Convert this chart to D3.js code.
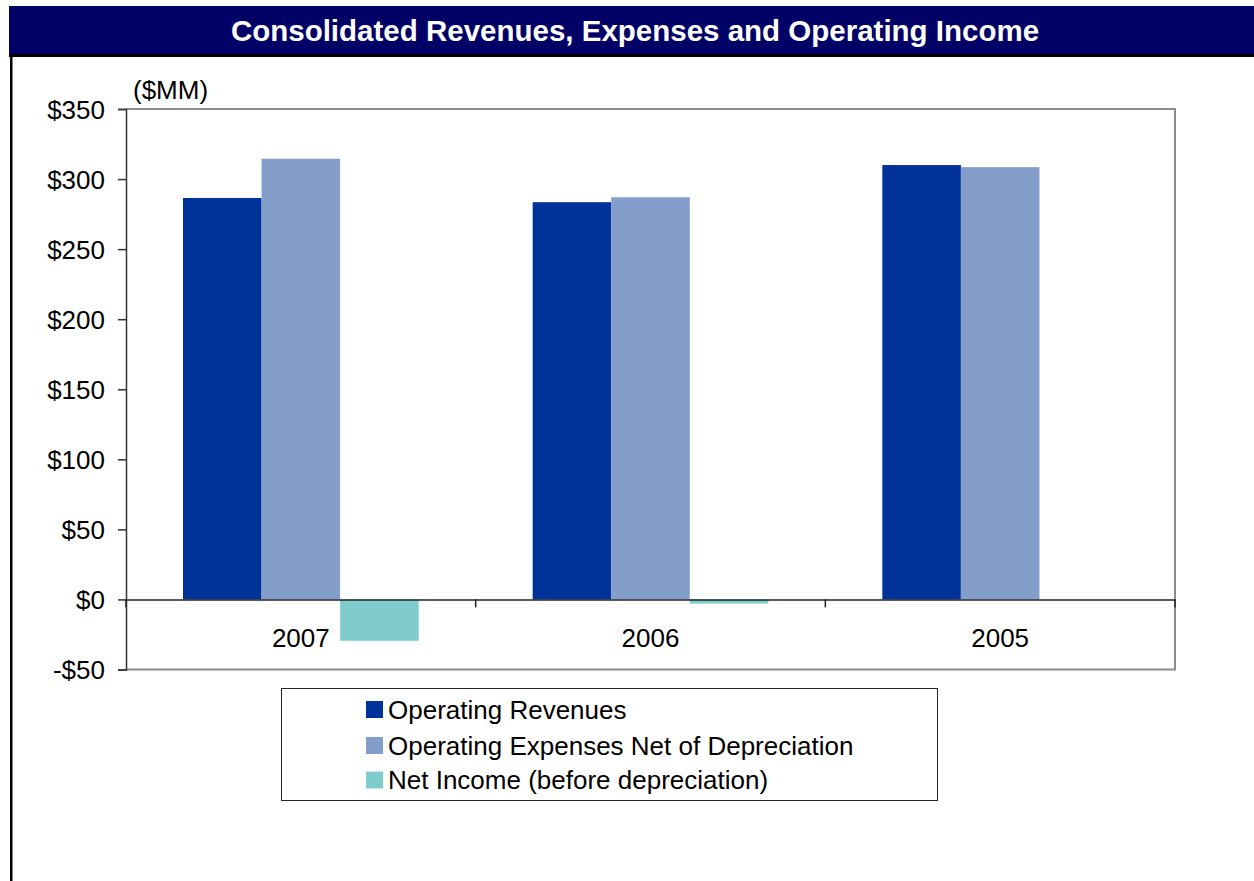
<!DOCTYPE html>
<html>
<head>
<meta charset="utf-8">
<script src="https://cdn.jsdelivr.net/npm/d3@7"></script>
<style>
  html, body { margin: 0; padding: 0; background: #fff; }
  svg { display: block; font-family: "Liberation Sans", Arial, sans-serif; }
</style>
</head>
<body>
<svg id="chart" width="1254" height="881"></svg>
<script>
// Fiscal years shown, newest first
const years = ["2007", "2006", "2005"];
// Values in $ millions
const operatingRevenues = [286.5, 283.5, 310];
const operatingExpenses = [314.5, 287, 308.5];
const netIncome = [-29.5, -3, 0];

const seriesNames = [
  "Operating Revenues",
  "Operating Expenses Net of Depreciation",
  "Net Income (before depreciation)"
];
const seriesColors = ["#003399", "#849ECC", "#80CCCC"];
const yTicks = [-50, 0, 50, 100, 150, 200, 250, 300, 350];

const title = "Consolidated Revenues, Expenses and Operating Income";

const labelSize = 26;
const svg = d3.select("#chart");

// Title banner
svg.append("rect").attr("x", 9).attr("y", 6).attr("width", 1245).attr("height", 49).attr("fill", "#000066");
svg.append("rect").attr("x", 9).attr("y", 54).attr("width", 1245).attr("height", 3).attr("fill", "#000");
svg.append("text")
  .attr("x", 635).attr("y", 41)
  .attr("text-anchor", "middle")
  .attr("fill", "#fff")
  .attr("font-weight", "bold")
  .attr("font-size", 29.5)
  .text(title);

// Frame rule on the left
svg.append("rect").attr("x", 10).attr("y", 55).attr("width", 2.5).attr("height", 826).attr("fill", "#000");

// Plot area
const plot = { left: 126, top: 109, right: 1175, bottom: 669.5 };

const y = d3.scaleLinear().domain([-50, 350]).range([plot.bottom, plot.top]);
const x0 = d3.scaleBand().domain(years).range([plot.left, plot.right]).padding(0);
const groupPad = x0.bandwidth() * 0.163;
const x1 = d3.scaleBand().domain(d3.range(3)).range([groupPad, x0.bandwidth() - groupPad]).padding(0);

// Plot border (top, right, bottom)
svg.append("path")
  .attr("d", `M${plot.left},${plot.top}H${plot.right}V${plot.bottom}H${plot.left}`)
  .attr("fill", "none").attr("stroke", "#8c8c8c").attr("stroke-width", 2);

const data = years.map((yr, i) => ({
  year: yr,
  values: [operatingRevenues[i], operatingExpenses[i], netIncome[i]]
}));

// Bars
const groups = svg.append("g").selectAll("g")
  .data(data).join("g")
  .attr("transform", d => `translate(${x0(d.year)},0)`);

groups.selectAll("rect")
  .data(d => d.values.map((v, k) => ({ v, k })))
  .join("rect")
  .attr("x", d => x1(d.k))
  .attr("width", x1.bandwidth())
  .attr("y", d => y(Math.max(0, d.v)))
  .attr("height", d => Math.abs(y(d.v) - y(0)))
  .attr("fill", d => seriesColors[d.k]);

// Value axis
const yAxis = d3.axisLeft(y)
  .tickValues(yTicks)
  .tickSize(8)
  .tickPadding(13)
  .tickFormat(d => (d < 0 ? "-$" : "$") + Math.abs(d));

const yg = svg.append("g")
  .attr("transform", `translate(${plot.left},0)`)
  .call(yAxis);
yg.select(".domain").attr("stroke", "#333").attr("stroke-width", 1.5);
yg.selectAll(".tick line").attr("stroke", "#333").attr("stroke-width", 1.5);
yg.selectAll(".tick text")
  .attr("font-family", "Liberation Sans, Arial, sans-serif")
  .attr("font-size", labelSize).attr("fill", "#000").attr("dy", "0.35em");

// Category axis along zero
const xAxis = d3.axisBottom(x0).tickSize(0).tickPadding(29);
const xg = svg.append("g")
  .attr("transform", `translate(0,${y(0)})`)
  .call(xAxis);
xg.select(".domain").attr("stroke", "#222").attr("stroke-width", 1.5);
xg.selectAll(".tick text")
  .attr("font-family", "Liberation Sans, Arial, sans-serif")
  .attr("font-size", labelSize).attr("fill", "#000");

// Category separator ticks
const sepPositions = years.map(yr => x0(yr) + x0.bandwidth()).concat([x0(years[0])]);
svg.append("g").selectAll("line")
  .data(sepPositions).join("line")
  .attr("x1", d => d).attr("x2", d => d)
  .attr("y1", y(0)).attr("y2", y(0) + 8)
  .attr("stroke", "#222").attr("stroke-width", 1.5);

// Units label
svg.append("text")
  .attr("x", 133).attr("y", 99)
  .attr("font-size", labelSize).attr("fill", "#000")
  .text("($MM)");

// Legend
const legend = svg.append("g");
legend.append("rect")
  .attr("x", 281.5).attr("y", 688.5).attr("width", 656).attr("height", 112)
  .attr("fill", "#fff").attr("stroke", "#222").attr("stroke-width", 1);

const legendRows = [709.5, 745.5, 780];
const items = legend.selectAll("g.item")
  .data(seriesNames).join("g")
  .attr("class", "item")
  .attr("transform", (d, i) => `translate(366,${legendRows[i]})`);
items.append("rect")
  .attr("x", 0).attr("y", -8.5).attr("width", 17).attr("height", 17)
  .attr("fill", (d, i) => seriesColors[i]);
items.append("text")
  .attr("x", 22).attr("y", 0).attr("dy", "0.35em")
  .attr("font-size", labelSize).attr("fill", "#000")
  .text(d => d);
</script>
</body>
</html>
